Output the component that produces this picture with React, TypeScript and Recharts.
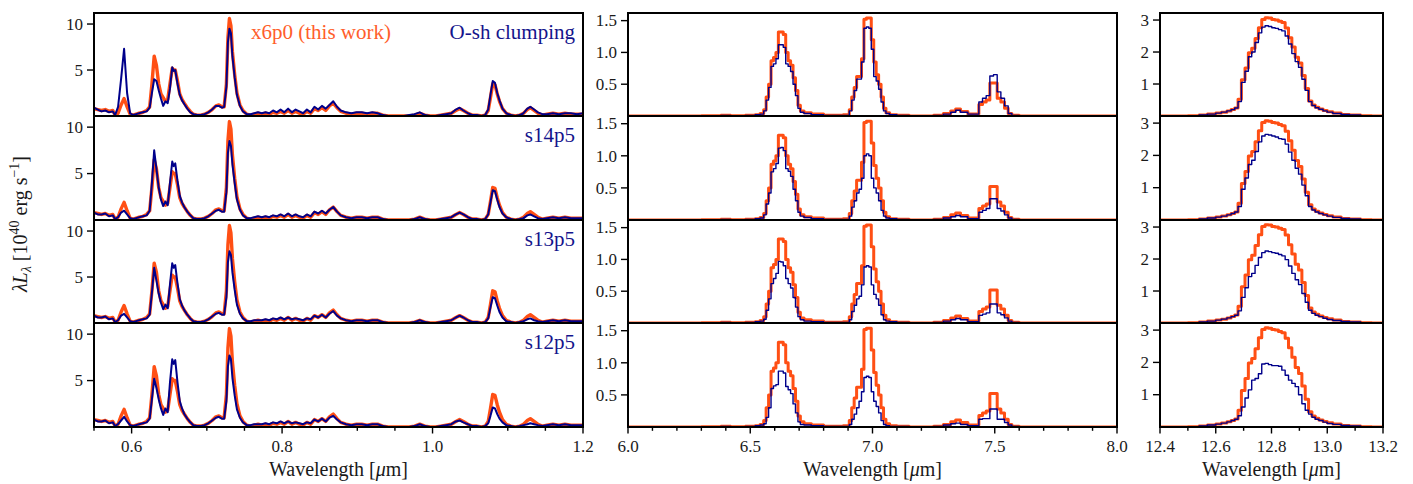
import React from 'react';
import { LineChart, Line, XAxis, YAxis } from 'recharts';

const FONT = '"Liberation Serif", "Times New Roman", serif';
const ORANGE = '#FF4F14';
const ORANGE_TEXT = '#FF5E2B';
const NAVY = '#00008B';
const NAVY_TEXT = '#14148C';
const TXT = '#1a1a1a';

// ---------- column 1 : optical / near-IR spectra ----------
const W1 = [
  0.550, 0.555, 0.560, 0.565, 0.570, 0.575, 0.578, 0.582, 0.586, 0.590,
  0.594, 0.598, 0.602, 0.606, 0.610, 0.615, 0.620, 0.624, 0.627, 0.630,
  0.633, 0.636, 0.639, 0.642, 0.645, 0.648, 0.651, 0.654, 0.656, 0.658,
  0.661, 0.664, 0.667, 0.670, 0.674, 0.678, 0.682, 0.687, 0.692, 0.697,
  0.702, 0.707, 0.712, 0.716, 0.720, 0.723, 0.726, 0.728, 0.730, 0.732,
  0.734, 0.737, 0.740, 0.744, 0.748, 0.753, 0.758, 0.763, 0.768, 0.773,
  0.778, 0.783, 0.788, 0.793, 0.798, 0.803, 0.808, 0.813, 0.818, 0.823,
  0.828, 0.833, 0.838, 0.843, 0.848, 0.853, 0.858, 0.863, 0.868, 0.873,
  0.878, 0.885, 0.892, 0.899, 0.906, 0.913, 0.920, 0.927, 0.934, 0.941,
  0.948, 0.955, 0.962, 0.969, 0.976, 0.983, 0.990, 0.997, 1.004, 1.011,
  1.018, 1.025, 1.031, 1.036, 1.041, 1.047, 1.053, 1.059, 1.065, 1.070,
  1.074, 1.077, 1.080, 1.083, 1.086, 1.089, 1.093, 1.098, 1.104, 1.110,
  1.116, 1.121, 1.126, 1.130, 1.135, 1.140, 1.146, 1.152, 1.160, 1.168,
  1.176, 1.184, 1.192, 1.200,
];

const X6P0_OPT = [
  0.8, 0.7, 0.6, 0.7, 0.5, 0.6, 0.1, 0.3, 1.2, 1.9,
  1.0, 0.2, 0.1, 0.2, 0.3, 0.4, 0.6, 1.0, 3.5, 6.5,
  5.5, 3.5, 2.4, 2.0, 1.6, 1.8, 3.5, 5.2, 5.0, 5.0,
  3.8, 2.4, 1.8, 1.4, 0.9, 0.5, 0.2, 0.1, 0.1, 0.2,
  0.4, 0.7, 1.1, 1.2, 1.0, 1.0, 3.5, 8.5, 10.6, 9.8,
  7.0, 4.5, 2.5, 1.2, 0.6, 0.2, 0.1, 0.2, 0.3, 0.2,
  0.3, 0.2, 0.4, 0.3, 0.5, 0.3, 0.6, 0.3, 0.5, 0.3,
  0.2, 0.5, 0.3, 0.8, 0.6, 0.9, 0.6, 1.1, 1.4, 0.9,
  0.5, 0.3, 0.2, 0.3, 0.3, 0.2, 0.3, 0.3, 0.1, 0.0,
  0.0, 0.0, 0.0, 0.0, 0.1, 0.3, 0.1, 0.0, 0.0, 0.1,
  0.2, 0.3, 0.6, 0.8, 0.6, 0.3, 0.1, 0.1, 0.0, 0.1,
  0.6, 2.0, 3.5, 3.4, 2.4, 1.6, 0.8, 0.3, 0.1, 0.0,
  0.1, 0.3, 0.7, 0.9, 0.6, 0.3, 0.1, 0.2, 0.3, 0.2,
  0.3, 0.2, 0.2, 0.2,
];

const OSH_OPT = [
  0.9, 0.7, 0.5, 0.6, 0.4, 0.5, 0.1, 1.0, 4.0, 7.3,
  2.5, 0.3, 0.1, 0.2, 0.3, 0.4, 0.5, 0.9, 2.5, 4.0,
  3.8, 2.8, 1.9, 1.1, 1.6, 1.4, 3.0, 5.3, 4.9, 5.0,
  3.5, 2.3, 1.7, 1.3, 0.8, 0.4, 0.2, 0.1, 0.1, 0.2,
  0.4, 0.7, 1.1, 1.1, 0.9, 1.0, 3.2, 8.0, 9.5, 9.0,
  6.5, 4.2, 2.3, 1.1, 0.5, 0.2, 0.2, 0.3, 0.4, 0.3,
  0.4, 0.3, 0.6, 0.4, 0.7, 0.4, 0.8, 0.4, 0.7, 0.5,
  0.3, 0.7, 0.4, 1.0, 0.7, 1.1, 0.8, 1.2, 1.6, 1.0,
  0.6, 0.4, 0.3, 0.4, 0.4, 0.3, 0.4, 0.3, 0.1, 0.0,
  0.0, 0.0, 0.0, 0.1, 0.2, 0.4, 0.1, 0.0, 0.0, 0.1,
  0.2, 0.3, 0.7, 0.9, 0.6, 0.3, 0.1, 0.1, 0.0, 0.1,
  0.7, 2.3, 3.8, 3.6, 2.5, 1.7, 0.8, 0.3, 0.1, 0.0,
  0.1, 0.3, 0.8, 1.0, 0.7, 0.4, 0.2, 0.2, 0.3, 0.2,
  0.3, 0.3, 0.2, 0.3,
];

const S14P5_OPT = [
  0.8, 0.6, 0.6, 0.7, 0.4, 0.5, 0.1, 0.3, 0.8, 1.0,
  0.6, 0.2, 0.1, 0.2, 0.3, 0.4, 0.5, 1.0, 4.0, 7.5,
  5.5, 3.5, 2.2, 1.5, 2.0, 1.6, 4.0, 6.3, 5.8, 6.1,
  4.2, 2.6, 1.9, 1.4, 0.9, 0.5, 0.2, 0.1, 0.1, 0.2,
  0.4, 0.7, 1.0, 1.1, 0.9, 0.9, 3.0, 7.2, 8.5, 8.0,
  6.0, 4.0, 2.2, 1.1, 0.5, 0.2, 0.2, 0.3, 0.4, 0.3,
  0.4, 0.3, 0.5, 0.4, 0.6, 0.4, 0.7, 0.4, 0.6, 0.4,
  0.3, 0.6, 0.4, 0.9, 0.7, 1.0, 0.7, 1.1, 1.4, 0.9,
  0.5, 0.3, 0.2, 0.3, 0.3, 0.2, 0.3, 0.3, 0.1, 0.0,
  0.0, 0.0, 0.0, 0.0, 0.1, 0.3, 0.1, 0.0, 0.0, 0.1,
  0.2, 0.3, 0.6, 0.8, 0.6, 0.3, 0.1, 0.1, 0.0, 0.1,
  0.6, 1.9, 3.2, 3.1, 2.2, 1.4, 0.7, 0.3, 0.1, 0.0,
  0.1, 0.2, 0.5, 0.6, 0.4, 0.2, 0.1, 0.2, 0.3, 0.2,
  0.3, 0.2, 0.2, 0.2,
];

const S13P5_OPT = [
  0.8, 0.6, 0.6, 0.7, 0.4, 0.5, 0.1, 0.3, 0.8, 1.0,
  0.6, 0.2, 0.1, 0.2, 0.3, 0.4, 0.5, 0.9, 3.3, 6.0,
  4.6, 3.2, 2.2, 1.5, 2.0, 1.6, 4.2, 6.5, 6.0, 6.3,
  4.3, 2.6, 1.9, 1.4, 0.9, 0.5, 0.2, 0.1, 0.1, 0.2,
  0.4, 0.7, 1.0, 1.1, 0.9, 0.9, 2.8, 6.6, 7.8, 7.4,
  5.5, 3.6, 2.0, 1.0, 0.5, 0.2, 0.2, 0.3, 0.3, 0.3,
  0.4, 0.3, 0.5, 0.4, 0.6, 0.4, 0.6, 0.4, 0.5, 0.4,
  0.3, 0.5, 0.4, 0.8, 0.6, 0.9, 0.6, 1.0, 1.3, 0.8,
  0.5, 0.3, 0.2, 0.3, 0.3, 0.2, 0.3, 0.3, 0.1, 0.0,
  0.0, 0.0, 0.0, 0.0, 0.1, 0.3, 0.1, 0.0, 0.0, 0.1,
  0.2, 0.3, 0.6, 0.8, 0.6, 0.3, 0.1, 0.1, 0.0, 0.1,
  0.5, 1.7, 2.8, 2.7, 1.9, 1.2, 0.6, 0.2, 0.1, 0.0,
  0.1, 0.2, 0.4, 0.5, 0.3, 0.2, 0.1, 0.2, 0.3, 0.2,
  0.3, 0.2, 0.2, 0.2,
];

const S12P5_OPT = [
  0.8, 0.6, 0.6, 0.7, 0.4, 0.5, 0.1, 0.3, 0.7, 1.1,
  0.6, 0.2, 0.1, 0.2, 0.3, 0.4, 0.5, 0.9, 3.0, 5.2,
  4.2, 3.0, 2.0, 1.3, 2.0, 1.6, 4.8, 7.3, 6.8, 7.2,
  4.8, 2.8, 2.0, 1.4, 0.9, 0.5, 0.2, 0.1, 0.1, 0.2,
  0.4, 0.7, 1.0, 1.1, 0.9, 0.9, 2.8, 6.5, 7.7, 7.3,
  5.3, 3.4, 1.9, 1.0, 0.5, 0.2, 0.2, 0.3, 0.3, 0.3,
  0.4, 0.3, 0.5, 0.4, 0.6, 0.4, 0.6, 0.4, 0.5, 0.4,
  0.3, 0.5, 0.4, 0.8, 0.6, 0.9, 0.6, 1.0, 1.2, 0.8,
  0.5, 0.3, 0.2, 0.3, 0.3, 0.2, 0.3, 0.3, 0.1, 0.0,
  0.0, 0.0, 0.0, 0.0, 0.1, 0.3, 0.1, 0.0, 0.0, 0.1,
  0.2, 0.3, 0.6, 0.7, 0.5, 0.3, 0.1, 0.1, 0.0, 0.1,
  0.4, 1.2, 2.1, 2.0, 1.4, 0.9, 0.5, 0.2, 0.1, 0.0,
  0.1, 0.2, 0.3, 0.4, 0.3, 0.2, 0.1, 0.2, 0.3, 0.2,
  0.3, 0.2, 0.2, 0.2,
];

// ---------- column 2 : 6-8 micron binned spectra ----------
const W2 = [
  6.00, 6.10, 6.20, 6.30, 6.38, 6.42, 6.48, 6.52, 6.54, 6.555,
  6.565, 6.575, 6.585, 6.595, 6.605, 6.615, 6.625, 6.635, 6.645, 6.655,
  6.665, 6.675, 6.685, 6.695, 6.705, 6.72, 6.75, 6.80, 6.85, 6.88,
  6.905, 6.915, 6.925, 6.935, 6.945, 6.955, 6.965, 6.975, 6.985, 6.995,
  7.005, 7.015, 7.025, 7.035, 7.045, 7.055, 7.07, 7.10, 7.15, 7.20,
  7.25, 7.29, 7.32, 7.34, 7.36, 7.39, 7.42, 7.435, 7.45, 7.465,
  7.48, 7.495, 7.51, 7.525, 7.54, 7.555, 7.57, 7.60, 7.70, 7.80,
  7.90, 8.00,
];

const X6P0_MIR1 = [
  0, 0, 0, 0.005, 0.01, 0.005, 0.01, 0.02, 0.04, 0.1,
  0.3, 0.5, 0.87, 0.92, 1.0, 1.32, 1.32, 1.28, 1.0, 0.87,
  0.8, 0.6, 0.4, 0.17, 0.08, 0.05, 0.03, 0.01, 0.01, 0.02,
  0.1, 0.3, 0.45, 0.62, 0.62, 0.9, 1.52, 1.54, 1.54, 1.2,
  0.85, 0.65, 0.5, 0.3, 0.12, 0.05, 0.02, 0.01, 0, 0,
  0.01, 0.04, 0.08, 0.11, 0.07, 0.03, 0.03, 0.18, 0.22, 0.25,
  0.52, 0.52, 0.28, 0.22, 0.12, 0.04, 0.01, 0, 0, 0,
  0, 0,
];

const OSH_MIR1 = [
  0, 0, 0, 0.005, 0.01, 0.005, 0.01, 0.02, 0.03, 0.08,
  0.25, 0.45, 0.78, 0.82, 0.9, 1.12, 1.12, 1.08, 0.82, 0.78,
  0.7, 0.5, 0.32, 0.12, 0.06, 0.04, 0.02, 0.01, 0.01, 0.01,
  0.08, 0.25, 0.4, 0.58, 0.58, 0.85, 1.38, 1.4, 1.38, 1.05,
  0.62, 0.55, 0.42, 0.22, 0.08, 0.04, 0.02, 0.01, 0, 0,
  0.01, 0.03, 0.06, 0.09, 0.06, 0.03, 0.03, 0.22, 0.28, 0.32,
  0.63, 0.65, 0.38, 0.28, 0.16, 0.04, 0.01, 0, 0, 0,
  0, 0,
];

const S14P5_MIR1 = [
  0, 0, 0, 0.005, 0.01, 0.005, 0.01, 0.02, 0.03, 0.08,
  0.25, 0.42, 0.75, 0.8, 0.88, 1.12, 1.13, 1.08, 0.8, 0.76,
  0.68, 0.48, 0.3, 0.12, 0.06, 0.04, 0.02, 0.01, 0.01, 0.01,
  0.06, 0.2, 0.3, 0.42, 0.48, 0.65, 1.0, 1.03, 1.0, 0.65,
  0.5, 0.42, 0.3, 0.15, 0.06, 0.03, 0.02, 0.01, 0, 0,
  0.01, 0.03, 0.05, 0.07, 0.05, 0.02, 0.02, 0.12, 0.15, 0.18,
  0.33, 0.33, 0.18, 0.14, 0.08, 0.03, 0.01, 0, 0, 0,
  0, 0,
];

const S13P5_MIR1 = [
  0, 0, 0, 0.005, 0.01, 0.005, 0.01, 0.02, 0.03, 0.06,
  0.2, 0.38, 0.62, 0.7, 0.78, 0.97, 0.96, 0.9, 0.7, 0.62,
  0.55, 0.4, 0.25, 0.1, 0.05, 0.03, 0.02, 0.01, 0.01, 0.01,
  0.05, 0.18, 0.28, 0.38, 0.42, 0.6, 0.88, 0.9, 0.88, 0.6,
  0.45, 0.38, 0.28, 0.13, 0.05, 0.03, 0.02, 0.01, 0, 0,
  0.01, 0.03, 0.05, 0.07, 0.05, 0.02, 0.02, 0.12, 0.14, 0.16,
  0.3, 0.3, 0.16, 0.13, 0.08, 0.03, 0.01, 0, 0, 0,
  0, 0,
];

const S12P5_MIR1 = [
  0, 0, 0, 0.005, 0.01, 0.005, 0.01, 0.02, 0.03, 0.05,
  0.15, 0.3, 0.6, 0.64, 0.66, 0.87, 0.87, 0.84, 0.63, 0.58,
  0.52, 0.36, 0.22, 0.08, 0.04, 0.03, 0.02, 0.01, 0.01, 0.01,
  0.04, 0.12, 0.2, 0.3, 0.4, 0.55, 0.77, 0.79, 0.77, 0.55,
  0.4, 0.32, 0.22, 0.1, 0.04, 0.02, 0.01, 0.01, 0, 0,
  0.01, 0.03, 0.05, 0.06, 0.04, 0.02, 0.02, 0.12, 0.13, 0.13,
  0.28, 0.28, 0.12, 0.12, 0.07, 0.03, 0.01, 0, 0, 0,
  0, 0,
];

// ---------- column 3 : 12.8 micron line ----------
const W3 = [
  12.40, 12.45, 12.50, 12.54, 12.57, 12.60, 12.62, 12.64, 12.655, 12.668,
  12.68, 12.692, 12.705, 12.717, 12.729, 12.741, 12.753, 12.765, 12.777, 12.789,
  12.801, 12.813, 12.825, 12.837, 12.849, 12.861, 12.873, 12.885, 12.897, 12.909,
  12.921, 12.933, 12.945, 12.957, 12.97, 12.985, 13.00, 13.02, 13.05, 13.08,
  13.12, 13.16, 13.20,
];

const X6P0_MIR2 = [
  0.0, 0.0, 0.01, 0.03, 0.06, 0.09, 0.12, 0.16, 0.2, 0.25,
  0.52, 1.13, 1.5, 1.98, 2.12, 2.42, 2.76, 3.02, 3.07, 3.06,
  3.02, 3.0, 2.96, 2.92, 2.75, 2.45, 2.16, 1.84, 1.66, 1.27,
  0.86, 0.47, 0.34, 0.27, 0.22, 0.17, 0.13, 0.09, 0.05, 0.03,
  0.01, 0.0, 0.0,
];

const OSH_MIR2 = [
  0.0, 0.0, 0.01, 0.03, 0.06, 0.09, 0.12, 0.16, 0.2, 0.25,
  0.45, 1.05, 1.4, 1.85, 2.0, 2.3, 2.6, 2.78, 2.82, 2.8,
  2.76, 2.74, 2.7, 2.66, 2.5, 2.25, 1.95, 1.7, 1.52, 1.15,
  0.8, 0.45, 0.33, 0.26, 0.21, 0.16, 0.12, 0.08, 0.05, 0.03,
  0.01, 0.0, 0.0,
];

const S14P5_MIR2 = [
  0, 0, 0.01, 0.03, 0.06, 0.09, 0.12, 0.16, 0.2, 0.25,
  0.42, 0.95, 1.3, 1.72, 1.85, 2.12, 2.42, 2.6, 2.65, 2.63,
  2.6, 2.57, 2.52, 2.5, 2.35, 2.1, 1.85, 1.6, 1.42, 1.08,
  0.75, 0.42, 0.31, 0.25, 0.2, 0.16, 0.12, 0.08, 0.05, 0.03,
  0.01, 0, 0,
];

const S13P5_MIR2 = [
  0, 0, 0.01, 0.03, 0.06, 0.09, 0.12, 0.16, 0.2, 0.24,
  0.38, 0.8, 1.1, 1.45, 1.55, 1.8, 2.05, 2.2, 2.25, 2.23,
  2.2, 2.18, 2.14, 2.1, 1.98, 1.78, 1.55, 1.35, 1.2, 0.92,
  0.65, 0.4, 0.3, 0.24, 0.2, 0.15, 0.11, 0.08, 0.05, 0.03,
  0.01, 0, 0,
];

const S12P5_MIR2 = [
  0, 0, 0.01, 0.03, 0.06, 0.09, 0.12, 0.16, 0.2, 0.24,
  0.35, 0.62, 0.9, 1.15, 1.45, 1.5, 1.65, 1.95, 1.97, 1.93,
  1.9, 1.9, 1.88, 1.76, 1.6, 1.45, 1.35, 1.25, 1.0, 0.72,
  0.52, 0.4, 0.3, 0.24, 0.2, 0.15, 0.11, 0.08, 0.05, 0.03,
  0.01, 0, 0,
];

// ---------- labels & ticks ----------
const MODEL_NAMES = ['O-sh clumping', 's14p5', 's13p5', 's12p5'];
const REF_NAME = 'x6p0 (this work)';

const X1_TICKS = [0.55, 0.6, 0.65, 0.7, 0.75, 0.8, 0.85, 0.9, 0.95, 1.0, 1.05, 1.1, 1.15, 1.2];
const X1_MAJOR = [0.6, 0.8, 1.0, 1.2];
const X2_TICKS = [6.0, 6.1, 6.2, 6.3, 6.4, 6.5, 6.6, 6.7, 6.8, 6.9, 7.0, 7.1, 7.2, 7.3, 7.4, 7.5, 7.6, 7.7, 7.8, 7.9, 8.0];
const X2_MAJOR = [6.0, 6.5, 7.0, 7.5, 8.0];
const X3_TICKS = [12.4, 12.5, 12.6, 12.7, 12.8, 12.9, 13.0, 13.1, 13.2];
const X3_MAJOR = [12.4, 12.6, 12.8, 13.0, 13.2];

const Y1_TICKS = [5, 10];
const Y2_TICKS = [0.5, 1.0, 1.5];
const Y3_TICKS = [1, 2, 3];

// ---------- layout ----------
const YW = 44;
const XH = 40;
const PAD = 10;
const RPAD = 24;
const ROW_TOP = [13, 116, 220, 323];
const ROW_H = [103, 104, 103, 104];

const COLS = [
  {
    left: 94, width: 489, w: W1, ref: X6P0_OPT,
    models: [OSH_OPT, S14P5_OPT, S13P5_OPT, S12P5_OPT],
    xDomain: [0.55, 1.2], xTicks: X1_TICKS, xMajor: X1_MAJOR,
    yDomain: [0, 11.2], yTicks: Y1_TICKS, yFmt: (v: number) => String(v),
    type: 'linear', refW: 3.4, modW: 2,
  },
  {
    left: 628, width: 489, w: W2, ref: X6P0_MIR1,
    models: [OSH_MIR1, S14P5_MIR1, S13P5_MIR1, S12P5_MIR1],
    xDomain: [6.0, 8.0], xTicks: X2_TICKS, xMajor: X2_MAJOR,
    yDomain: [0, 1.62], yTicks: Y2_TICKS, yFmt: (v: number) => v.toFixed(1),
    type: 'stepAfter', refW: 3, modW: 1.4,
  },
  {
    left: 1160, width: 223, w: W3, ref: X6P0_MIR2,
    models: [OSH_MIR2, S14P5_MIR2, S13P5_MIR2, S12P5_MIR2],
    xDomain: [12.4, 13.2], xTicks: X3_TICKS, xMajor: X3_MAJOR,
    yDomain: [0, 3.22], yTicks: Y3_TICKS, yFmt: (v: number) => String(v),
    type: 'stepAfter', refW: 3, modW: 1.4,
  },
];

function XTick(props: any) {
  const { x, y, payload, majors } = props;
  const v = payload.value;
  const isMajor = majors.some((m: number) => Math.abs(m - v) < 1e-6);
  return (
    <g>
      <line x1={x} x2={x} y1={y} y2={y + (isMajor ? 6.5 : 3.8)} stroke="#000" strokeWidth={1.4} />
      {isMajor && (
        <text x={x} y={y + 25} textAnchor="middle" fontFamily={FONT} fontSize={17} fill={TXT}>
          {v.toFixed(1)}
        </text>
      )}
    </g>
  );
}

function YTick(props: any) {
  const { x, y, payload, fmt } = props;
  return (
    <g>
      <line x1={x - 7} x2={x} y1={y} y2={y} stroke="#000" strokeWidth={1.4} />
      <text x={x - 11} y={y} dy="0.34em" textAnchor="end" fontFamily={FONT} fontSize={17} fill={TXT}>
        {fmt(payload.value)}
      </text>
    </g>
  );
}

function Panel({ col, row }: { col: any; row: number }) {
  const bottom = row === 3;
  const h = ROW_H[row];
  const top = ROW_TOP[row];
  const model = col.models[row];
  const data = col.w.map((w: number, i: number) => ({ w, a: col.ref[i], b: model[i] }));
  return (
    <>
      <div style={{ position: 'absolute', left: col.left - YW, top: top - PAD }}>
        <LineChart
          width={YW + col.width + RPAD}
          height={PAD + h + (bottom ? XH : 0)}
          data={data}
          margin={{ top: PAD, right: RPAD, bottom: 0, left: 0 }}
        >
          <XAxis
            dataKey="w"
            type="number"
            domain={col.xDomain}
            allowDataOverflow
            ticks={col.xTicks}
            interval={0}
            hide={!bottom}
            height={XH}
            tickSize={0}
            tickMargin={0}
            axisLine={false}
            tickLine={false}
            tick={(p: any) => <XTick {...p} majors={col.xMajor} />}
          />
          <YAxis
            type="number"
            domain={col.yDomain}
            allowDataOverflow
            ticks={col.yTicks}
            interval={0}
            width={YW}
            tickSize={0}
            tickMargin={0}
            axisLine={false}
            tickLine={false}
            tick={(p: any) => <YTick {...p} fmt={col.yFmt} />}
          />
          <Line
            dataKey="a"
            type={col.type}
            stroke={ORANGE}
            strokeWidth={col.refW}
            dot={false}
            isAnimationActive={false}
            strokeLinejoin="round"
          />
          <Line
            dataKey="b"
            type={col.type}
            stroke={NAVY}
            strokeWidth={col.modW}
            dot={false}
            isAnimationActive={false}
            strokeLinejoin="round"
          />
        </LineChart>
      </div>
      <div
        style={{
          position: 'absolute',
          left: col.left - 1,
          top: top - 1,
          width: col.width + 2,
          height: h + 2,
          border: '2px solid #000',
          boxSizing: 'border-box',
          pointerEvents: 'none',
        }}
      />
    </>
  );
}

export default function App() {
  const colCenters = COLS.map((c) => c.left + c.width / 2);
  return (
    <div style={{ position: 'absolute', left: 0, top: 0, width: 1413, height: 484, background: '#fff' }}>
      <style>{`.recharts-surface{overflow:visible}`}</style>
      {COLS.map((col, ci) =>
        [0, 1, 2, 3].map((row) => <Panel key={`${ci}-${row}`} col={col} row={row} />)
      )}
      <svg
        width={1413}
        height={484}
        style={{ position: 'absolute', left: 0, top: 0, pointerEvents: 'none' }}
        fontFamily={FONT}
      >
        <text x={251} y={39} fontSize={21} fill={ORANGE_TEXT}>{REF_NAME}</text>
        {MODEL_NAMES.map((name, r) => (
          <text key={name} x={575} y={ROW_TOP[r] + 26} fontSize={21} fill={NAVY_TEXT} textAnchor="end">
            {name}
          </text>
        ))}
        {colCenters.map((cx, i) => (
          <text key={i} x={cx} y={476} fontSize={20} fill={TXT} textAnchor="middle">
            Wavelength [<tspan fontStyle="italic">μ</tspan>m]
          </text>
        ))}
        <text transform="translate(27,224) rotate(-90)" fontSize={20} fill={TXT} textAnchor="middle">
          <tspan fontStyle="italic">λL</tspan>
          <tspan fontStyle="italic" fontSize={14} dy={4}>λ</tspan>
          <tspan dy={-4}> [10</tspan>
          <tspan fontSize={14} dy={-8}>40</tspan>
          <tspan dy={8}> erg s</tspan>
          <tspan fontSize={14} dy={-8}>−1</tspan>
          <tspan dy={8}>]</tspan>
        </text>
      </svg>
    </div>
  );
}
